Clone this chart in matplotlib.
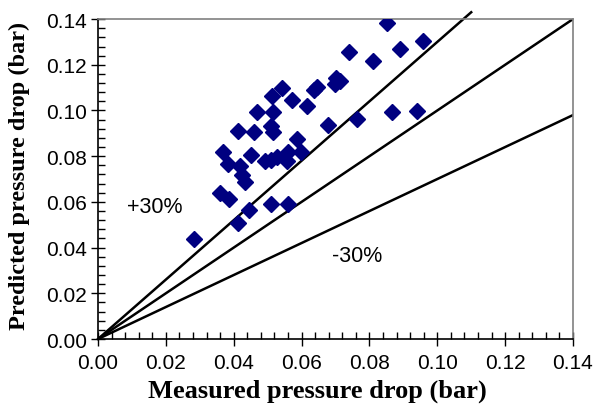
import matplotlib
matplotlib.use('Agg')
import matplotlib.pyplot as plt
from matplotlib.ticker import MultipleLocator, FormatStrFormatter

# 数据
measured = [0.0283, 0.0360, 0.0386, 0.0368, 0.0383, 0.0419, 0.0424, 0.0433, 0.0413, 0.0445,
            0.0413, 0.0460, 0.0451, 0.0469, 0.0492, 0.0510, 0.0528, 0.0510, 0.0516, 0.0516,
            0.0513, 0.0542, 0.0560, 0.0557, 0.0598, 0.0587, 0.0510, 0.0560, 0.0572, 0.0616,
            0.0637, 0.0645, 0.0678, 0.0701, 0.0713, 0.0698, 0.0740, 0.0763, 0.0810, 0.0852,
            0.0866, 0.0890, 0.0940, 0.0957]
predicted = [0.0437, 0.0639, 0.0612, 0.0818, 0.0766, 0.0757, 0.0717, 0.0687, 0.0507, 0.0564,
             0.0910, 0.0906, 0.0805, 0.0993, 0.0779, 0.0783, 0.0796, 0.0932, 0.0906, 0.0993,
             0.1063, 0.1098, 0.0818, 0.0779, 0.0818, 0.0875, 0.0591, 0.0591, 0.1046, 0.1019,
             0.1089, 0.1102, 0.0936, 0.1142, 0.1129, 0.1115, 0.1255, 0.0962, 0.1216, 0.1382,
             0.0993, 0.1269, 0.0997, 0.1304]

# 参考线: +30%, 0%, -30%
line_x = [0.0, 0.14]
upper_x = [0.0, 0.11]
upper_k = 1.3
lower_k = 0.7

plt.rcParams['font.family'] = ['Liberation Sans', 'DejaVu Sans']

fig = plt.figure(figsize=(5.95, 4.10), dpi=100)
ax = fig.add_axes([0.1647, 0.1707, 0.7983, 0.7803])

ax.plot(upper_x, [v * upper_k for v in upper_x], color='black', lw=1.8, clip_on=False, zorder=2)
ax.plot(line_x, line_x, color='black', lw=1.8, zorder=2)
ax.plot(line_x, [v * lower_k for v in line_x], color='black', lw=1.8, zorder=2)

ax.plot(measured, predicted, linestyle='none', marker='D', ms=8.5,
        color='#000080', mec='#000080', zorder=3)

ax.text(0.0168, 0.0582, '+30%', fontsize=15.5, ha='center', va='center')
ax.text(0.0763, 0.0367, '-30%', fontsize=15.5, ha='center', va='center')

ax.set_xlim(0, 0.14)
ax.set_ylim(0, 0.14)
ax.xaxis.set_major_locator(MultipleLocator(0.02))
ax.xaxis.set_minor_locator(MultipleLocator(0.004))
ax.yaxis.set_major_locator(MultipleLocator(0.02))
ax.yaxis.set_minor_locator(MultipleLocator(0.004))
ax.xaxis.set_major_formatter(FormatStrFormatter('%.2f'))
ax.yaxis.set_major_formatter(FormatStrFormatter('%.2f'))
ax.tick_params(which='major', direction='inout', length=10, width=1, labelsize=15, pad=3)
ax.tick_params(which='minor', direction='in', length=5, width=1)
ax.tick_params(axis='x', pad=5)

for s in ['left', 'bottom']:
    ax.spines[s].set_linewidth(1.2)
    ax.spines[s].set_color('black')
for s in ['top', 'right']:
    ax.spines[s].set_linewidth(1.2)
    ax.spines[s].set_color('#808080')

ax.set_xlabel('Measured pressure drop (bar)', family='Liberation Serif', fontweight='bold',
              fontsize=19)
ax.set_ylabel('Predicted pressure drop (bar)', family='Liberation Serif', fontweight='bold',
              fontsize=17.5)
ax.xaxis.set_label_coords(0.461, -0.125)
ax.yaxis.set_label_coords(-0.143, 0.5125)

fig.savefig('out.png', dpi=100)
